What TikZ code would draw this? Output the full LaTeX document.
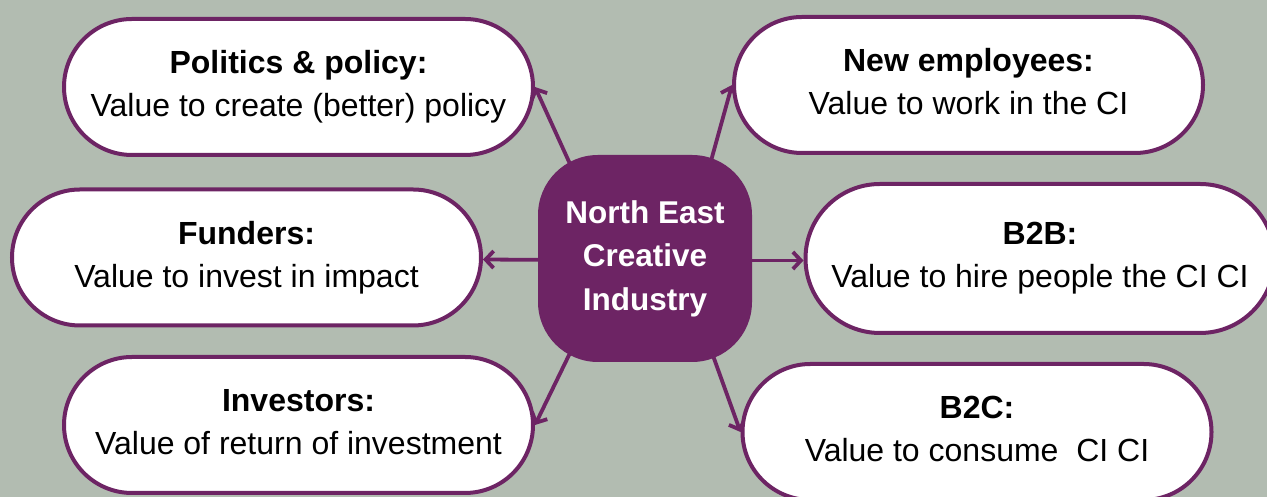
\documentclass[tikz,border=0pt]{standalone}
\usepackage{fontspec}
\setmainfont{Liberation Sans}
\usetikzlibrary{arrows.meta,shapes.misc}

\definecolor{plum}{HTML}{6D2464}
\definecolor{sage}{HTML}{B2BCB1}

\pgfdeclarelayer{backdrop}
\pgfdeclarelayer{links}
\pgfsetlayers{backdrop,links,main}

\tikzset{
  pill/.style={rounded rectangle, draw=plum, line width=4pt, fill=white,
    minimum width=469pt, minimum height=136pt, inner sep=0pt, align=center,
    font=\fontsize{32}{43}\selectfont},
  hubbox/.style={rectangle, rounded corners=60pt, fill=plum, text=white,
    minimum width=214pt, minimum height=207pt, inner sep=0pt, align=center,
    font=\fontsize{31.5}{43.5}\selectfont\bfseries},
  link/.style={draw=plum, line width=3.8pt, -{Straight Barb[length=8pt,width=17pt]}},
}

% bold group name, then its value line
\newcommand{\who}[2]{\textbf{#1}\\#2\vphantom{py}}

\begin{document}
\begin{tikzpicture}[x=1pt,y=1pt]
    \useasboundingbox (0,0) rectangle (1267,497);
    \begin{pgfonlayer}{backdrop}
        \fill[sage] (0,0) rectangle (1267,497);
    \end{pgfonlayer}

    % centre
    \node[hubbox] (hub) at (645,238.5) {North East\\Creative\\Industry};

    % left side
    \node[pill] (politics) at (298.5,410) {\who{Politics \& policy:}{Value to create (better) policy}};
    \node[pill] (funders) at (246.5,239.5) {\who{Funders:}{Value to invest in impact}};
    \node[pill] (investors) at (298.5,72) {\who{Investors:}{Value of return of investment}};

    % right side
    \node[pill] (employees) at (968.5,412) {\who{New employees:}{Value to work in the CI}};
    \node[pill, minimum height=149pt] (btob) at (1040,238.5) {\who{B2B:}{Value to hire people the CI CI}};
    \node[pill] (btoc) at (977,65) {\who{B2C:}{Value to consume~ CI CI}};

    % arrows, kept under the centre box
    \begin{pgfonlayer}{links}
        \draw[link] ([xshift=-32pt]hub.center) -- (politics.east);
        \draw[link] ([yshift=-2pt]hub.center) -- ([yshift=-2pt]funders.east);
        \draw[link] ([xshift=-29pt]hub.center) -- (investors.east);
        \draw[link] ([xshift=39pt]hub.center) -- (employees.west);
        \draw[link] ([yshift=-2pt]hub.center) -- ([yshift=-2pt]btob.west);
        \draw[link] ([xshift=33pt]hub.center) -- (btoc.west);
    \end{pgfonlayer}
\end{tikzpicture}
\end{document}
